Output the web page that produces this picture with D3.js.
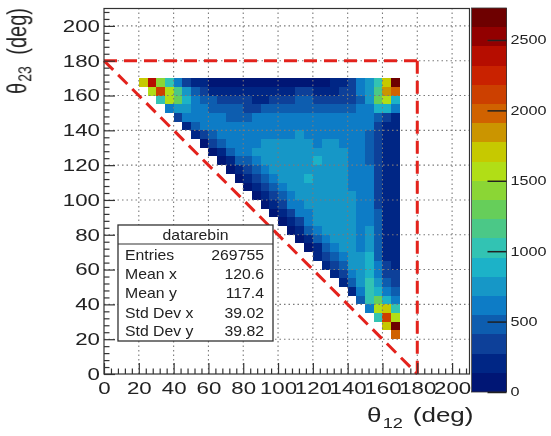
<!DOCTYPE html>
<html><head><meta charset="utf-8">
<script src="https://cdn.jsdelivr.net/npm/d3@7"></script>
<style>
body{margin:0;background:#fff}
svg{display:block}
text{font-family:"Liberation Sans",Arial,Helvetica,sans-serif;fill:#222}
</style>
</head><body>
<svg id="c" width="551" height="436"></svg>
<script>
// ---------------- data ----------------
const binW = 5;
const rowYLow = [165,160,155,150,145,140,135,130,125,120,115,110,105,100,95,90,85,80,75,70,65,60,55,50,45,40,35,30,25,20];
const rowXLow = [20,25,30,35,40,45,50,55,60,65,70,75,80,85,90,95,100,105,110,115,120,125,130,135,140,145,150,155,160,165];
const counts = [
 [1700,2350,1450,1050,600,330,200,150,120,110,100,100,100,100,100,100,100,100,100,110,120,130,160,250,330,550,800,1050,1750,2727],
 [1600,2150,1550,1100,700,480,330,230,180,170,160,150,150,150,160,170,200,330,380,220,200,220,280,350,550,750,1200,1900,2000],
 [1050,1500,1250,900,620,500,420,350,300,280,280,270,260,280,300,350,420,480,380,330,320,340,400,500,750,1250,1550,950],
 [550,750,780,650,560,520,480,440,420,400,400,420,430,450,480,520,520,480,480,500,520,540,560,650,850,900,600],
 [400,600,680,620,580,570,540,540,540,570,580,570,570,600,620,620,580,580,570,580,580,620,600,420,280,250],
 [200,420,560,600,580,620,620,580,580,620,660,620,620,620,660,660,660,620,620,660,620,580,400,200,230],
 [150,320,500,580,620,620,660,660,660,660,660,660,700,660,660,660,660,660,660,620,540,380,160,220],
 [130,280,460,580,660,660,660,700,700,700,700,700,700,660,700,700,660,660,620,540,380,160,220],
 [130,250,420,580,660,700,700,740,740,700,700,700,740,740,700,700,660,620,540,380,150,220],
 [130,240,420,540,660,700,740,700,740,700,700,900,740,700,700,660,620,540,380,150,220],
 [120,230,380,540,660,700,700,700,740,740,760,700,740,700,660,620,560,380,150,200],
 [120,220,380,540,660,700,740,740,850,740,740,740,700,660,620,560,380,150,200],
 [120,220,380,540,660,700,740,780,740,740,740,700,660,620,560,380,150,200],
 [120,220,380,540,660,700,740,740,740,740,800,700,620,580,380,150,200],
 [120,220,380,580,660,700,740,740,780,740,700,620,580,400,150,200],
 [120,220,380,580,660,740,740,740,780,700,640,600,420,160,200],
 [120,220,380,580,700,740,780,740,700,650,640,420,160,200],
 [120,220,420,580,700,740,740,700,660,700,440,170,210],
 [120,240,420,620,700,780,700,660,720,460,180,220],
 [130,260,460,620,740,740,660,760,480,190,230],
 [140,280,500,660,740,700,820,520,220,250],
 [150,320,540,700,700,860,560,300,260],
 [170,380,620,740,900,620,350,300],
 [210,460,700,1000,800,450,350],
 [260,600,1050,950,600,420],
 [450,1000,1300,900,600],
 [600,1550,1700,1000],
 [1050,2150,1500],
 [1700,2650],
 [2000]
];
const axisTicks = [0,20,40,60,80,100,120,140,160,180,200];
const colorTicks = [0,500,1000,1500,2000,2500];
const refLines = [
  [[0,180],[180,180]],
  [[180,180],[180,0]],
  [[0,180],[180,0]]
];
const statsTitle = "datarebin";
const statsLabels = ["Entries","Mean x","Mean y","Std Dev x","Std Dev y"];
const statsValues = ["269755","120.6","117.4","39.02","39.82"];

// palette (ROOT kRainBow stops)
const palStops = [0,0.125,0.25,0.375,0.5,0.625,0.75,0.875,1];
const palR = [0,5,15,35,102,196,208,199,110];
const palG = [0,48,124,192,206,226,97,16,0];
const palB = [99,142,198,201,90,0,0,0,0];
const nLevels = 20;

// ---------------- drawing ----------------
const svg = d3.select("#c");
const defs = svg.append("defs");
defs.append("filter").attr("id","soft").append("feGaussianBlur").attr("stdDeviation",0.45);
const root = svg.append("g").attr("filter","url(#soft)");

const M = {left:104, top:8.5, w:365.5, h:365.5};
const x = d3.scaleLinear().domain([0,210]).range([M.left, M.left+M.w]);
const y = d3.scaleLinear().domain([0,210]).range([M.top+M.h, M.top]);
const SX = 1.35; // horizontal stretch of glyphs in reference

const pal = d3.scaleLinear().domain(palStops)
  .range(palStops.map((s,i)=>d3.rgb(palR[i],palG[i],palB[i]).toString()))
  .interpolate(d3.interpolateRgb);

const cells = [];
rowYLow.forEach((yl,r)=>counts[r].forEach((v,j)=>cells.push({x0:rowXLow[r]+j*binW, y0:yl, v})));
const zmax = d3.max(cells, d=>d.v);
const level = v => Math.min(nLevels-1, Math.floor(v/zmax*nLevels));
const levelColor = i => pal((i+0.99)/nLevels);

root.append("g").attr("shape-rendering","crispEdges")
  .selectAll("rect").data(cells).join("rect")
  .attr("x", d=>x(d.x0)).attr("y", d=>y(d.y0+binW))
  .attr("width", d=>x(d.x0+binW)-x(d.x0)).attr("height", d=>y(d.y0)-y(d.y0+binW))
  .attr("fill", d=>levelColor(level(d.v)));

// grid
const grid = root.append("g").attr("stroke","#7a7a7a").attr("stroke-width",1.1).attr("stroke-dasharray","1.5,3");
grid.selectAll(".gv").data(axisTicks.filter(t=>t>0)).join("line")
  .attr("x1",d=>x(d)).attr("x2",d=>x(d)).attr("y1",y(0)).attr("y2",y(210));
grid.selectAll(".gh").data(axisTicks.filter(t=>t>0)).join("line")
  .attr("y1",d=>y(d)).attr("y2",d=>y(d)).attr("x1",x(0)).attr("x2",x(210));

// red reference dashed lines
const line = d3.line().x(d=>x(d[0])).y(d=>y(d[1]));
root.append("g").selectAll("path").data(refLines).join("path")
  .attr("d", line).attr("fill","none").attr("stroke","#e3201b")
  .attr("stroke-width",3).attr("stroke-dasharray","13,7");

// frame
root.append("rect").attr("x",x(0)).attr("y",y(210)).attr("width",x(210)-x(0)).attr("height",y(0)-y(210))
  .attr("fill","none").attr("stroke","#333").attr("stroke-width",1.2);

// axes
const minorTicks = d3.range(0,211,4).filter(t=>t%20!==0);
function styleAxis(g){
  g.select(".domain").remove();
  g.selectAll(".tick line").attr("stroke","#333").attr("stroke-width",1.2);
  g.attr("font-family",null).attr("font-size",null);
}
const gx = root.append("g").attr("transform",`translate(0,${y(0)})`)
  .call(d3.axisBottom(x).tickValues(axisTicks).tickSize(-11).tickSizeOuter(0).tickPadding(8.5).tickFormat(d3.format("d")));
styleAxis(gx);
gx.selectAll("text").attr("font-size",16.5).attr("transform",`scale(${SX},1)`);
const gxm = root.append("g").attr("transform",`translate(0,${y(0)})`)
  .call(d3.axisBottom(x).tickValues(minorTicks).tickSize(-5.5).tickSizeOuter(0).tickFormat(""));
styleAxis(gxm);

const gy = root.append("g").attr("transform",`translate(${x(0)},0)`)
  .call(d3.axisLeft(y).tickValues(axisTicks).tickSize(-11).tickSizeOuter(0).tickPadding(3).tickFormat(d3.format("d")));
styleAxis(gy);
gy.selectAll("text").attr("font-size",16.5).attr("transform",`scale(${SX},1)`);
const gym = root.append("g").attr("transform",`translate(${x(0)},0)`)
  .call(d3.axisLeft(y).tickValues(minorTicks).tickSize(-5.5).tickSizeOuter(0).tickFormat(""));
styleAxis(gym);

// axis titles
const xt = root.append("text").attr("transform",`translate(367,422) scale(1.3,1)`).attr("font-size",20);
xt.append("tspan").text("θ");
xt.append("tspan").attr("font-size",14).attr("dy",6).attr("dx",1).text("12");
xt.append("tspan").attr("dy",-6).attr("dx",2).text(" (deg)");

const yt = root.append("text").attr("transform",`translate(26,8) scale(${SX},1) rotate(-90)`)
  .attr("font-size",20).attr("text-anchor","end");
yt.append("tspan").text("θ");
yt.append("tspan").attr("font-size",14).attr("dy",4).attr("dx",1).text("23");
yt.append("tspan").attr("dy",-4).attr("dx",6).text(" (deg)");

// colour bar
const CB = {x0:471.5, x1:506.5, y0:8, y1:392};
const z = d3.scaleLinear().domain([0,zmax]).range([CB.y1, CB.y0]);
const bands = d3.range(nLevels);
root.append("g").attr("shape-rendering","crispEdges").selectAll("rect").data(bands).join("rect")
  .attr("x",CB.x0).attr("width",CB.x1-CB.x0)
  .attr("y",i=>z((i+1)*zmax/nLevels)).attr("height",i=>z(i*zmax/nLevels)-z((i+1)*zmax/nLevels))
  .attr("fill",i=>levelColor(i));
root.append("rect").attr("x",CB.x0).attr("y",CB.y0).attr("width",CB.x1-CB.x0).attr("height",CB.y1-CB.y0)
  .attr("fill","none").attr("stroke","#333").attr("stroke-width",0.8);
const gz = root.append("g").attr("transform",`translate(${CB.x1},0)`)
  .call(d3.axisRight(z).tickValues(colorTicks).tickSize(-19).tickSizeOuter(0).tickPadding(3).tickFormat(d3.format("d")));
styleAxis(gz);
gz.selectAll(".tick line").attr("stroke","#222").attr("stroke-width",1.5);
gz.selectAll("text").attr("font-size",12).attr("transform",`scale(${SX},1)`);

// stats box
const SB = {x:118, y:225, w:155, h:116, div:244};
const SS = 1.13;
root.append("rect").attr("x",SB.x).attr("y",SB.y).attr("width",SB.w).attr("height",SB.h)
  .attr("fill","#fff").attr("stroke","#333").attr("stroke-width",1.3);
root.append("line").attr("x1",SB.x).attr("x2",SB.x+SB.w).attr("y1",SB.div).attr("y2",SB.div)
  .attr("stroke","#333").attr("stroke-width",1.2);
root.append("text").attr("transform",`translate(${SB.x+SB.w/2},240) scale(${SS},1)`)
  .attr("text-anchor","middle").attr("font-size",14).text(statsTitle);
const rowBase = [260,279,297.5,318,336];
root.append("g").selectAll("text").data(statsLabels).join("text")
  .attr("transform",(d,i)=>`translate(125,${rowBase[i]}) scale(${SS},1)`)
  .attr("font-size",14).text(d=>d);
root.append("g").selectAll("text").data(statsValues).join("text")
  .attr("transform",(d,i)=>`translate(264,${rowBase[i]}) scale(${SS},1)`)
  .attr("font-size",14).attr("text-anchor","end").text(d=>d);
</script>
</body></html>
